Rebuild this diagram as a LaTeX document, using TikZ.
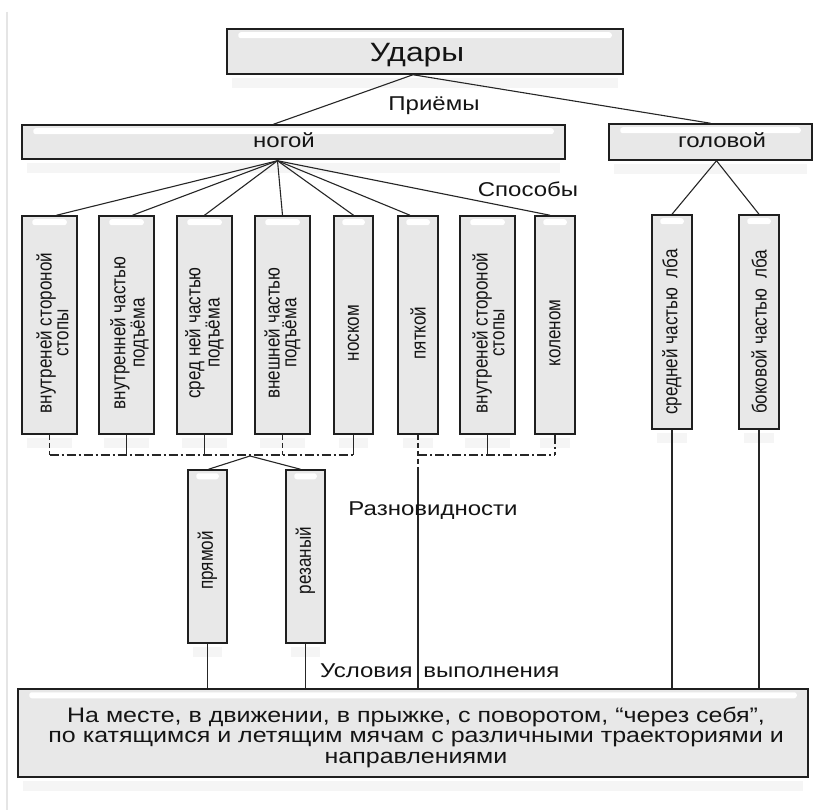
\documentclass[tikz,border=0pt]{standalone}
\usepackage{fontspec}
\setmainfont{Liberation Sans}
\newfontfamily\wfont[FakeStretch=1.2]{Liberation Sans}
\newfontfamily\bfontw[FakeStretch=1.19]{Liberation Sans}
\newfontfamily\nfont[FakeStretch=0.833]{Liberation Sans}
\usetikzlibrary{calc}
\newcommand\boxshad[1]{\fill[black!4] ($(#1.south west)+(6,3)$) rectangle ($(#1.south east)+(-6,13)$);}
\newcommand\boxhl[2]{\fill[white, rounded corners=2.5pt] ($(#1.north west)+(#2,4)$) rectangle ($(#1.north east)+(-#2,10)$);}
\begin{document}
\begin{tikzpicture}[x=1pt,y=-1pt,
  box/.style={draw=black!88, line width=1.5pt, fill=black!9, inner sep=0pt},
  htext/.style={font=\wfont\fontsize{20}{21}\selectfont, inner sep=0pt, align=center, text=black!92},
  vtext/.style={font=\nfont\fontsize{20.5}{16.7}\selectfont, rotate=90, inner sep=0pt, align=center, text=black!92},
  conn/.style={draw=black!85, line width=1.1pt},
  dd/.style={conn, dash pattern=on 9pt off 3pt on 2pt off 3pt},
  dsh/.style={conn, dash pattern=on 5pt off 3pt},
]
\fill[white] (0,0) rectangle (817,810);
\useasboundingbox (0,0) rectangle (817,810);
\draw[black!10, line width=1.5pt] (7,12) -- (7,810);

% boxes
\node[box, minimum width=396pt, minimum height=45pt] (udary) at (425,51.5) {};
\node[box, minimum width=543pt, minimum height=34pt] (nogoy) at (293.5,142) {};
\node[box, minimum width=203pt, minimum height=36pt] (golovoy) at (710.5,142) {};
\node[box, minimum width=55pt, minimum height=218pt] (b1) at (49.5,325) {};
\node[box, minimum width=55pt, minimum height=218pt] (b2) at (126.5,325) {};
\node[box, minimum width=55pt, minimum height=218pt] (b3) at (204.5,325) {};
\node[box, minimum width=55pt, minimum height=218pt] (b4) at (282.5,325) {};
\node[box, minimum width=39pt, minimum height=218pt] (b5) at (353.5,325) {};
\node[box, minimum width=40pt, minimum height=218pt] (b6) at (418,325) {};
\node[box, minimum width=55pt, minimum height=218pt] (b7) at (487.5,325) {};
\node[box, minimum width=40pt, minimum height=218pt] (b8) at (555,325) {};
\node[box, minimum width=40pt, minimum height=214pt] (b9) at (672,322) {};
\node[box, minimum width=40pt, minimum height=214pt] (b10) at (759,322) {};
\node[box, minimum width=39pt, minimum height=173pt] (p1) at (207.5,556.5) {};
\node[box, minimum width=39pt, minimum height=173pt] (p2) at (305.5,556.5) {};
\node[box, minimum width=790pt, minimum height=88pt] (bottom) at (413,733) {};

\foreach \n in {udary,nogoy,golovoy,b1,b2,b3,b4,b5,b6,b7,b8,b9,b10,p1,p2,bottom} {\boxshad{\n}}
\foreach \n in {udary,nogoy,golovoy,bottom} {\boxhl{\n}{12}}
\foreach \n in {b1,b2,b3,b4,b7} {\boxhl{\n}{11}}
\foreach \n in {b5,b6,b8,b9,b10,p1,p2} {\boxhl{\n}{9}}

% texts
\node[htext, font=\wfont\fontsize{26.5}{28}\selectfont, anchor=base] (tudary) at (417,62) {Удары};
\node[htext, anchor=base] (tpriemy) at (434,111) {Приёмы};
\node[htext, anchor=base] (tnogoy) at (284,148) {ногой};
\node[htext, anchor=base] (tgolovoy) at (722,148) {головой};
\node[htext, anchor=base] (tsposoby) at (528,197) {Способы};
\node[vtext] (tb1) at ($(b1.center)+(3,8)$) {внутреней стороной\\стопы};
\node[vtext] (tb2) at ($(b2.center)+(3,8)$) {внутренней частью\\подъёма};
\node[vtext] (tb3) at ($(b3.center)+(0,8)$) {сред ней частью\\подъёма};
\node[vtext] (tb4) at ($(b4.center)+(0,8)$) {внешней частью\\подъёма};
\node[vtext] (tb5) at ($(b5.center)+(0,8)$) {носком};
\node[vtext] (tb6) at ($(b6.center)+(0,8)$) {пяткой};
\node[vtext] (tb7) at ($(b7.center)+(1,8)$) {внутреней стороной\\стопы};
\node[vtext] (tb8) at ($(b8.center)+(0,8)$) {коленом};
\node[vtext] (tb9) at ($(b9.center)+(0,10)$) {средней частью\ \ лба};
\node[vtext] (tb10) at ($(b10.center)+(0,10)$) {боковой частью\ \ лба};
\node[vtext] (tp1) at ($(p1.center)+(0,4)$) {прямой};
\node[vtext] (tp2) at ($(p2.center)+(0,4)$) {резаный};

% connectors
\coordinate (us) at ($(udary.south)+(-12,0)$);
\draw[conn] (us) -- ($(nogoy.north)+(-20,0)$);
\draw[conn] (us) -- (golovoy.north);
\coordinate (nf) at ($(nogoy.south)+(-16,1)$);
\foreach \b/\dx in {b1/7, b2/6, b3/0, b4/0, b5/0, b6/-8, b8/-5} {\draw[conn] (nf) -- ($(\b.north)+(\dx,0)$);}
\coordinate (gf) at ($(golovoy.south)+(6,0)$);
\draw[conn] (gf) -- (b9.north);
\draw[conn] (gf) -- (b10.north);

% brackets
\coordinate (hl) at (0,455);
\coordinate (lo) at (0,470);
\draw[dsh] (b1.south) -- (b1.south |- hl);
\draw[conn] (b2.south) -- (b2.south |- hl);
\draw[conn] (b3.south) -- (b3.south |- hl);
\draw[dsh] (b4.south) -- (b4.south |- hl);
\draw[conn] (b5.south) -- (b5.south |- hl);
\draw[dd] (b1.south |- hl) -- (b5.south |- hl);
\draw[dsh] (b6.south) -- (b6.south |- lo);
\draw[conn] (b6.south |- lo) -- (b6.south |- bottom.north);
\draw[conn] (b7.south) -- (b7.south |- hl);
\draw[dd] (b8.south) -- (b8.south |- hl);
\draw[dd] (b6.south |- hl) -- (b8.south |- hl);
\coordinate (pk) at (250,456);
\draw[conn] (pk) -- ($(p1.north)+(1,0)$);
\draw[conn] (pk) -- ($(p2.north)+(-5,0)$);
\draw[conn] (p1.south) -- (p1.south |- bottom.north);
\draw[conn] (p2.south) -- (p2.south |- bottom.north);
\draw[conn] (b9.south) -- (b9.south |- bottom.north);
\draw[conn] (b10.south) -- (b10.south |- bottom.north);

\node[htext, anchor=base] (traznov) at (433,515) {Разновидности};
\node[htext, anchor=base west] (tuslov) at (320,677) {Условия\hspace{4pt} выполнения};
\node[htext, font=\bfontw\fontsize{21}{20.5}\selectfont] (tbottom) at (416,737) {На месте, в движении, в прыжке, с поворотом, “через себя”,\\по катящимся и летящим мячам с различными траекториями и\\направлениями};
\end{tikzpicture}
\end{document}
